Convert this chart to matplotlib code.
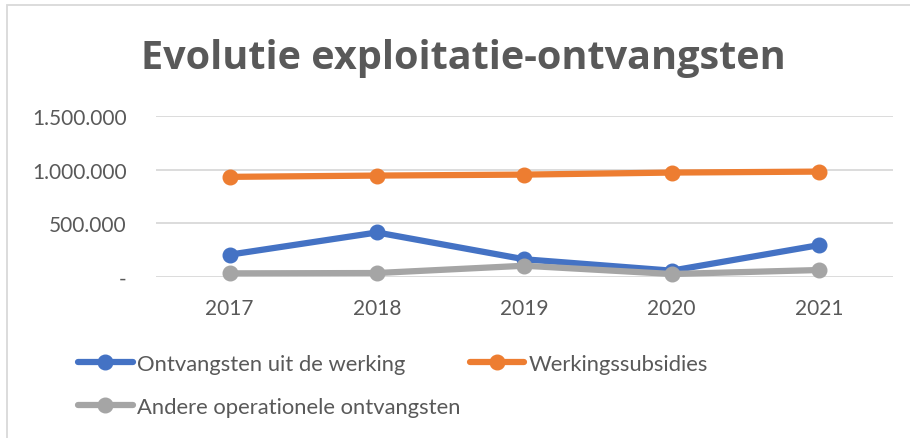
import matplotlib
matplotlib.use("Agg")
import matplotlib.pyplot as plt
from matplotlib.patches import Rectangle
from matplotlib.ticker import FuncFormatter

# data
jaren = ["2017", "2018", "2019", "2020", "2021"]
werking = [208000, 415000, 165000, 59000, 297000]
subsidies = [933000, 945000, 954000, 973000, 982000]
andere = [34000, 37000, 105000, 28000, 65000]

namen = ["Ontvangsten uit de werking", "Werkingssubsidies",
         "Andere operationele ontvangsten"]
kleuren = ["#4472C4", "#ED7D31", "#A5A5A5"]

tekstkleur = "#595959"
plt.rcParams["font.family"] = ["Lato", "DejaVu Sans"]

W, H = 910, 439
fig = plt.figure(figsize=(W / 100, H / 100), dpi=100)
ax = fig.add_axes([156 / W, 1 - 278 / H, (892.7 - 156) / W, (278 - 117) / H])

x = list(range(len(jaren)))
lijnen = []
for reeks, naam, kleur in zip([werking, subsidies, andere], namen, kleuren):
    l, = ax.plot(x, reeks, color=kleur, lw=4.5, marker="o", ms=10.5,
                 solid_capstyle="round", label=naam, clip_on=False, zorder=3)
    lijnen.append(l)

ax.set_xlim(-0.5, len(jaren) - 0.5)
ax.set_ylim(0, 1500000)
ax.set_yticks([0, 500000, 1000000, 1500000])
ax.yaxis.set_major_formatter(FuncFormatter(
    lambda v, p: "-" if v == 0 else f"{int(v):,}".replace(",", ".")))
ax.set_xticks(x)
ax.set_xticklabels(jaren)

ax.grid(axis="y", color="#D9D9D9", lw=1.3)
ax.set_axisbelow(True)
for s in ax.spines.values():
    s.set_visible(False)
ax.tick_params(length=0, labelsize=15, labelcolor=tekstkleur)
ax.tick_params(axis="y", pad=21)
ax.tick_params(axis="x", pad=15)

fig.text(463 / W, 1 - 68.5 / H, "Evolutie exploitatie-ontvangsten",
         ha="center", va="baseline", fontsize=28.5, fontweight="bold",
         color=tekstkleur, family=["Open Sans", "DejaVu Sans"])

# legend: order so that it fills row by row
volgorde = [0, 2, 1]
fig.legend([lijnen[i] for i in volgorde], [namen[i] for i in volgorde],
           loc="upper left", bbox_to_anchor=(78 / W, 1 - 355 / H), ncol=2,
           frameon=False, fontsize=15.8, labelcolor=tekstkleur,
           handlelength=2.5, handletextpad=0.2, columnspacing=0.4,
           labelspacing=1.05, borderpad=0, borderaxespad=0)

# chart border, cut off on right and bottom like the screenshot
fig.patches.append(Rectangle((7 / W, -0.1), 1.2, 1 - 5.5 / H + 0.1,
                             transform=fig.transFigure, fill=False,
                             edgecolor="#D9D9D9", lw=1.3))

fig.savefig("out.png", dpi=100)
